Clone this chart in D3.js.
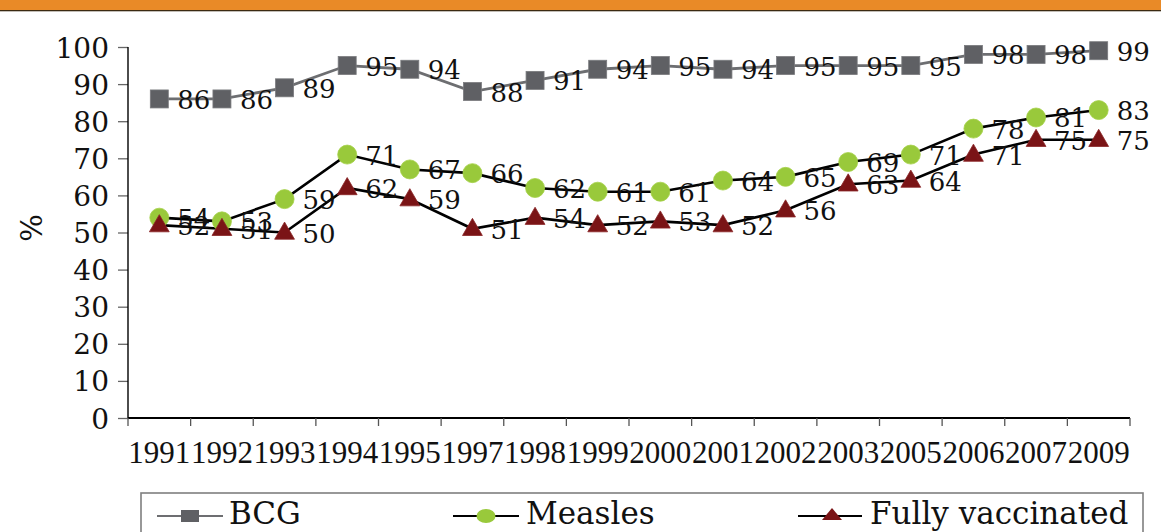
<!DOCTYPE html>
<html>
<head>
<meta charset="utf-8">
<script src="https://cdn.jsdelivr.net/npm/d3@7"></script>
<style>
  html, body { margin: 0; padding: 0; background: #fff; }
  svg { display: block; }
</style>
</head>
<body>
<svg id="chart" width="1161" height="532"></svg>
<script>
const years = ["1991","1992","1993","1994","1995","1997","1998","1999","2000","2001","2002","2003","2005","2006","2007","2009"];
const bcg = [86,86,89,95,94,88,91,94,95,94,95,95,95,98,98,99];
const measles = [54,53,59,71,67,66,62,61,61,64,65,69,71,78,81,83];
const fully = [52,51,50,62,59,51,54,52,53,52,56,63,64,71,75,75];
const yTicks = [0,10,20,30,40,50,60,70,80,90,100];
const seriesNames = ["BCG","Measles","Fully vaccinated"];

(function(){
const svg = d3.select("#chart");
const W = 1161, H = 532;
const serif = "'DejaVu Serif', serif";

// Orange header bar
svg.append("rect").attr("x",0).attr("y",0).attr("width",W).attr("height",10.5).attr("fill","#E98A27");
svg.append("rect").attr("x",0).attr("y",10).attr("width",W).attr("height",1.3).attr("fill","#3b2a12");

const pLeft = 128, pRight = 1130, pTop = 47, pBottom = 418;
const x = d3.scaleBand().domain(years).range([pLeft, pRight]).paddingInner(0).paddingOuter(0);
const y = d3.scaleLinear().domain([0,100]).range([pBottom, pTop]);
const cx = d => x(d) + x.bandwidth()/2;

// Y axis
const yAxis = d3.axisLeft(y).tickValues(yTicks).tickSize(10).tickPadding(9);
const gy = svg.append("g").attr("transform",`translate(${pLeft},0)`).call(yAxis);
gy.select(".domain").remove();
gy.selectAll(".tick line").attr("stroke","#666").attr("stroke-width",1.3);
gy.selectAll(".tick text").attr("font-family",serif).attr("font-size",28).attr("fill","#111").attr("dy","0.36em");
svg.append("line").attr("x1",pLeft).attr("x2",pLeft).attr("y1",pTop).attr("y2",pBottom).attr("stroke","#000").attr("stroke-width",1.4);

// X axis
const gx = svg.append("g").attr("transform",`translate(0,${pBottom})`);
gx.append("line").attr("x1",pLeft).attr("x2",pRight).attr("y1",0).attr("y2",0).attr("stroke","#000").attr("stroke-width",2.2);
const edges = years.map(d => x(d)).concat([pRight]);
gx.selectAll("line.tk").data(edges).enter().append("line").attr("class","tk")
  .attr("x1",d=>d).attr("x2",d=>d).attr("y1",0).attr("y2",8).attr("stroke","#555").attr("stroke-width",1.3);
gx.selectAll("text").data(years).enter().append("text")
  .attr("x", d => cx(d)).attr("y", 45)
  .attr("text-anchor","middle")
  .attr("font-family","'Liberation Serif', serif").attr("font-size",31).attr("fill","#111")
  .text(d=>d);

// Y label
svg.append("text").attr("transform","translate(42,228) rotate(-90)")
  .attr("text-anchor","middle").attr("font-family",serif).attr("font-size",29).attr("fill","#111").text("%");

const line = d3.line().x((d,i)=>cx(years[i])).y(d=>y(d));

// lines
svg.append("path").datum(bcg).attr("d",line).attr("fill","none").attr("stroke","#6d6e71").attr("stroke-width",2.8);
svg.append("path").datum(measles).attr("d",line).attr("fill","none").attr("stroke","#000").attr("stroke-width",2.6);
svg.append("path").datum(fully).attr("d",line).attr("fill","none").attr("stroke","#000").attr("stroke-width",2.6);

// markers
const sq = 18;
svg.append("g").selectAll("rect").data(bcg).enter().append("rect")
  .attr("x",(d,i)=>cx(years[i])-sq/2).attr("y",d=>y(d)-sq/2).attr("width",sq).attr("height",sq)
  .attr("fill","#5f6064").attr("stroke","#7a7b7e").attr("stroke-width",0.8);
svg.append("g").selectAll("circle").data(measles).enter().append("circle")
  .attr("cx",(d,i)=>cx(years[i])).attr("cy",d=>y(d)).attr("r",9.5)
  .attr("fill","#99C93B").attr("stroke","#a4d048").attr("stroke-width",0.8);
const tri = d3.symbol().type(d3.symbolTriangle).size(170);
svg.append("g").selectAll("path").data(fully).enter().append("path")
  .attr("d",tri).attr("transform",(d,i)=>`translate(${cx(years[i])},${y(d)+1})`)
  .attr("fill","#7A1416").attr("stroke","#8a2426").attr("stroke-width",0.8);

// data labels
function labels(data){
  svg.append("g").selectAll("text").data(data).enter().append("text")
    .attr("x",(d,i)=>cx(years[i])+18).attr("y",d=>y(d)+10)
    .attr("font-family",serif).attr("font-size",26).attr("fill","#111")
    .text(d=>d);
}
labels(bcg); labels(measles); labels(fully);

// Legend
const lg = svg.append("g");
lg.append("rect").attr("x",141).attr("y",493).attr("width",1002).attr("height",60)
  .attr("fill","none").attr("stroke","#7f7f7f").attr("stroke-width",1.6);
const ly = 516;
const lfs = 31, lby = 524;
lg.append("line").attr("x1",157).attr("x2",223).attr("y1",ly).attr("y2",ly).attr("stroke","#6d6e71").attr("stroke-width",2);
lg.append("rect").attr("x",181).attr("y",ly-6).attr("width",18).attr("height",12).attr("fill","#5f6064");
lg.append("text").attr("x",229).attr("y",lby).attr("font-family",serif).attr("font-size",lfs).attr("fill","#111").text(seriesNames[0]);
lg.append("line").attr("x1",453).attr("x2",519).attr("y1",ly).attr("y2",ly).attr("stroke","#000").attr("stroke-width",2);
lg.append("ellipse").attr("cx",486).attr("cy",ly).attr("rx",9.5).attr("ry",7).attr("fill","#99C93B");
lg.append("text").attr("x",526).attr("y",lby).attr("font-family",serif).attr("font-size",lfs).attr("fill","#111").text(seriesNames[1]);
lg.append("line").attr("x1",798).attr("x2",862).attr("y1",ly).attr("y2",ly).attr("stroke","#000").attr("stroke-width",2);
lg.append("path").attr("d","M822,"+(ly+4)+" L842,"+(ly+4)+" L832,"+(ly-8)+" Z").attr("fill","#7A1416");
lg.append("text").attr("x",870).attr("y",lby).attr("font-family",serif).attr("font-size",lfs).attr("fill","#111").text(seriesNames[2]);
})();
</script>
</body>
</html>
